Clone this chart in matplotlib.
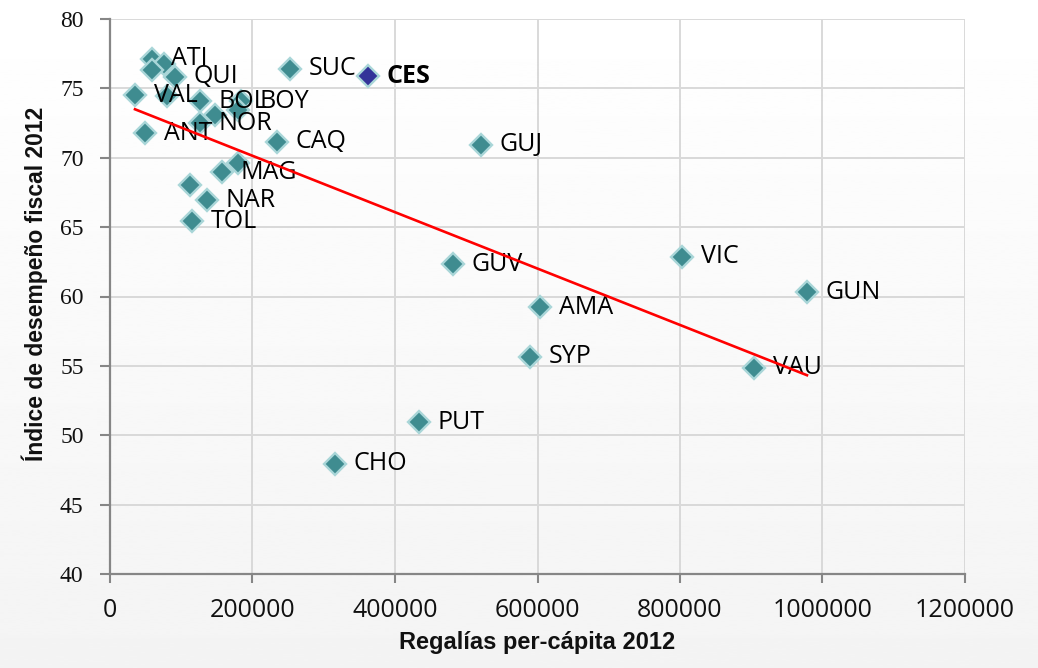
import numpy as np
import matplotlib
matplotlib.use('Agg')
import matplotlib.pyplot as plt

# ---- data ----
codes = ['ATI', '', '', 'QUI', 'VAL', '', 'BOL', '', 'NOR', 'BOY', '', 'ANT',
         'SUC', 'CES', 'CAQ', '', 'MAG', '', 'NAR', 'TOL',
         'GUJ', 'GUV', 'VIC', 'GUN', 'AMA', 'SYP', 'VAU', 'PUT', 'CHO']
regalias = [58900, 75800, 58900, 91200, 35100, 80000, 126300, 147400, 126300, 183900, 179600, 49100,
            252600, 362100, 234400, 179600, 157200, 112300, 136100, 115100,
            520700, 481400, 802800, 978200, 603500, 589500, 903900, 433700, 315800]
idf = [77.12, 76.76, 76.32, 75.82, 74.52, 74.45, 74.09, 73.08, 72.50, 74.09, 73.44, 71.78,
       76.40, 75.89, 71.14, 69.62, 68.97, 68.04, 66.95, 65.44,
       70.92, 62.34, 62.85, 60.32, 59.24, 55.64, 54.85, 50.95, 47.93]
highlight = 'CES'
xticks = [0, 200000, 400000, 600000, 800000, 1000000, 1200000]
yticks = [40, 45, 50, 55, 60, 65, 70, 75, 80]
xlabel = 'Regalías per-cápita 2012'
ylabel = 'Índice de desempeño fiscal 2012'

W, H = 1038, 668
fig = plt.figure(figsize=(W / 100, H / 100), dpi=100)

# background gradient
bg = fig.add_axes([0, 0, 1, 1], zorder=-10)
grad = np.linspace(1.0, 0.955, 256).reshape(-1, 1)
bg.imshow(grad, cmap='gray', vmin=0, vmax=1, aspect='auto',
          extent=[0, 1, 0, 1], origin='upper')
bg.axis('off')

ax = fig.add_axes([110 / W, 1 - 574 / H, 855 / W, 555 / H])
ax.set_facecolor('none')
ax.set_xlim(0, 1200000)
ax.set_ylim(40, 80)

x = np.array(regalias, dtype=float)
y = np.array(idf, dtype=float)

for c, xi, yi in zip(codes, x, y):
    fc = '#333399' if c == highlight else '#3F8C90'
    ax.plot([xi], [yi], linestyle='none', marker='D', markersize=11.5,
            markerfacecolor=fc, markeredgecolor='#A9D6D8', markeredgewidth=1.7,
            zorder=3)

for c, xi, yi in zip(codes, x, y):
    if c:
        ax.annotate(c, (xi, yi), xytext=(13.5, 0), textcoords='offset points',
                    ha='left', va='center', fontsize=18, family='Open Sans',
                    fontweight='bold' if c == highlight else 'normal',
                    color='black', zorder=4)

# linear trendline over data range
coef = np.polyfit(x, y, 1)
xs = np.array([x.min(), x.max()])
ax.plot(xs, np.polyval(coef, xs), color='#FF0000', lw=1.9, zorder=5)

ax.set_xticks(xticks)
ax.set_xticklabels([str(t) for t in xticks], fontfamily='Open Sans', fontsize=18)
ax.set_yticks(yticks)
ax.set_yticklabels([str(t) for t in yticks], fontfamily='Liberation Serif', fontsize=17)
ax.tick_params(axis='x', direction='out', length=6.5, width=1.5, color='#868686',
               pad=11, labelcolor='#111111')
ax.tick_params(axis='y', direction='out', length=7, width=1.5, color='#868686',
               pad=12, labelcolor='#111111')
ax.grid(True, color='#d9d9d9', lw=1.4)
ax.set_axisbelow(True)
for s in ['top', 'right']:
    ax.spines[s].set_visible(False)
for s in ['left', 'bottom']:
    ax.spines[s].set_color('#868686')
    ax.spines[s].set_linewidth(1.6)

fig.text(34.5 / W, 1 - 284 / H, ylabel, rotation=90, ha='center', va='center',
         fontsize=16.5, fontweight='bold', family='Liberation Sans', color='#111111')
fig.text(537.5 / W, 1 - 642 / H, xlabel, ha='center', va='center',
         fontsize=17, fontweight='bold', family='Liberation Sans', color='#111111')

fig.savefig('out.png', dpi=100)
